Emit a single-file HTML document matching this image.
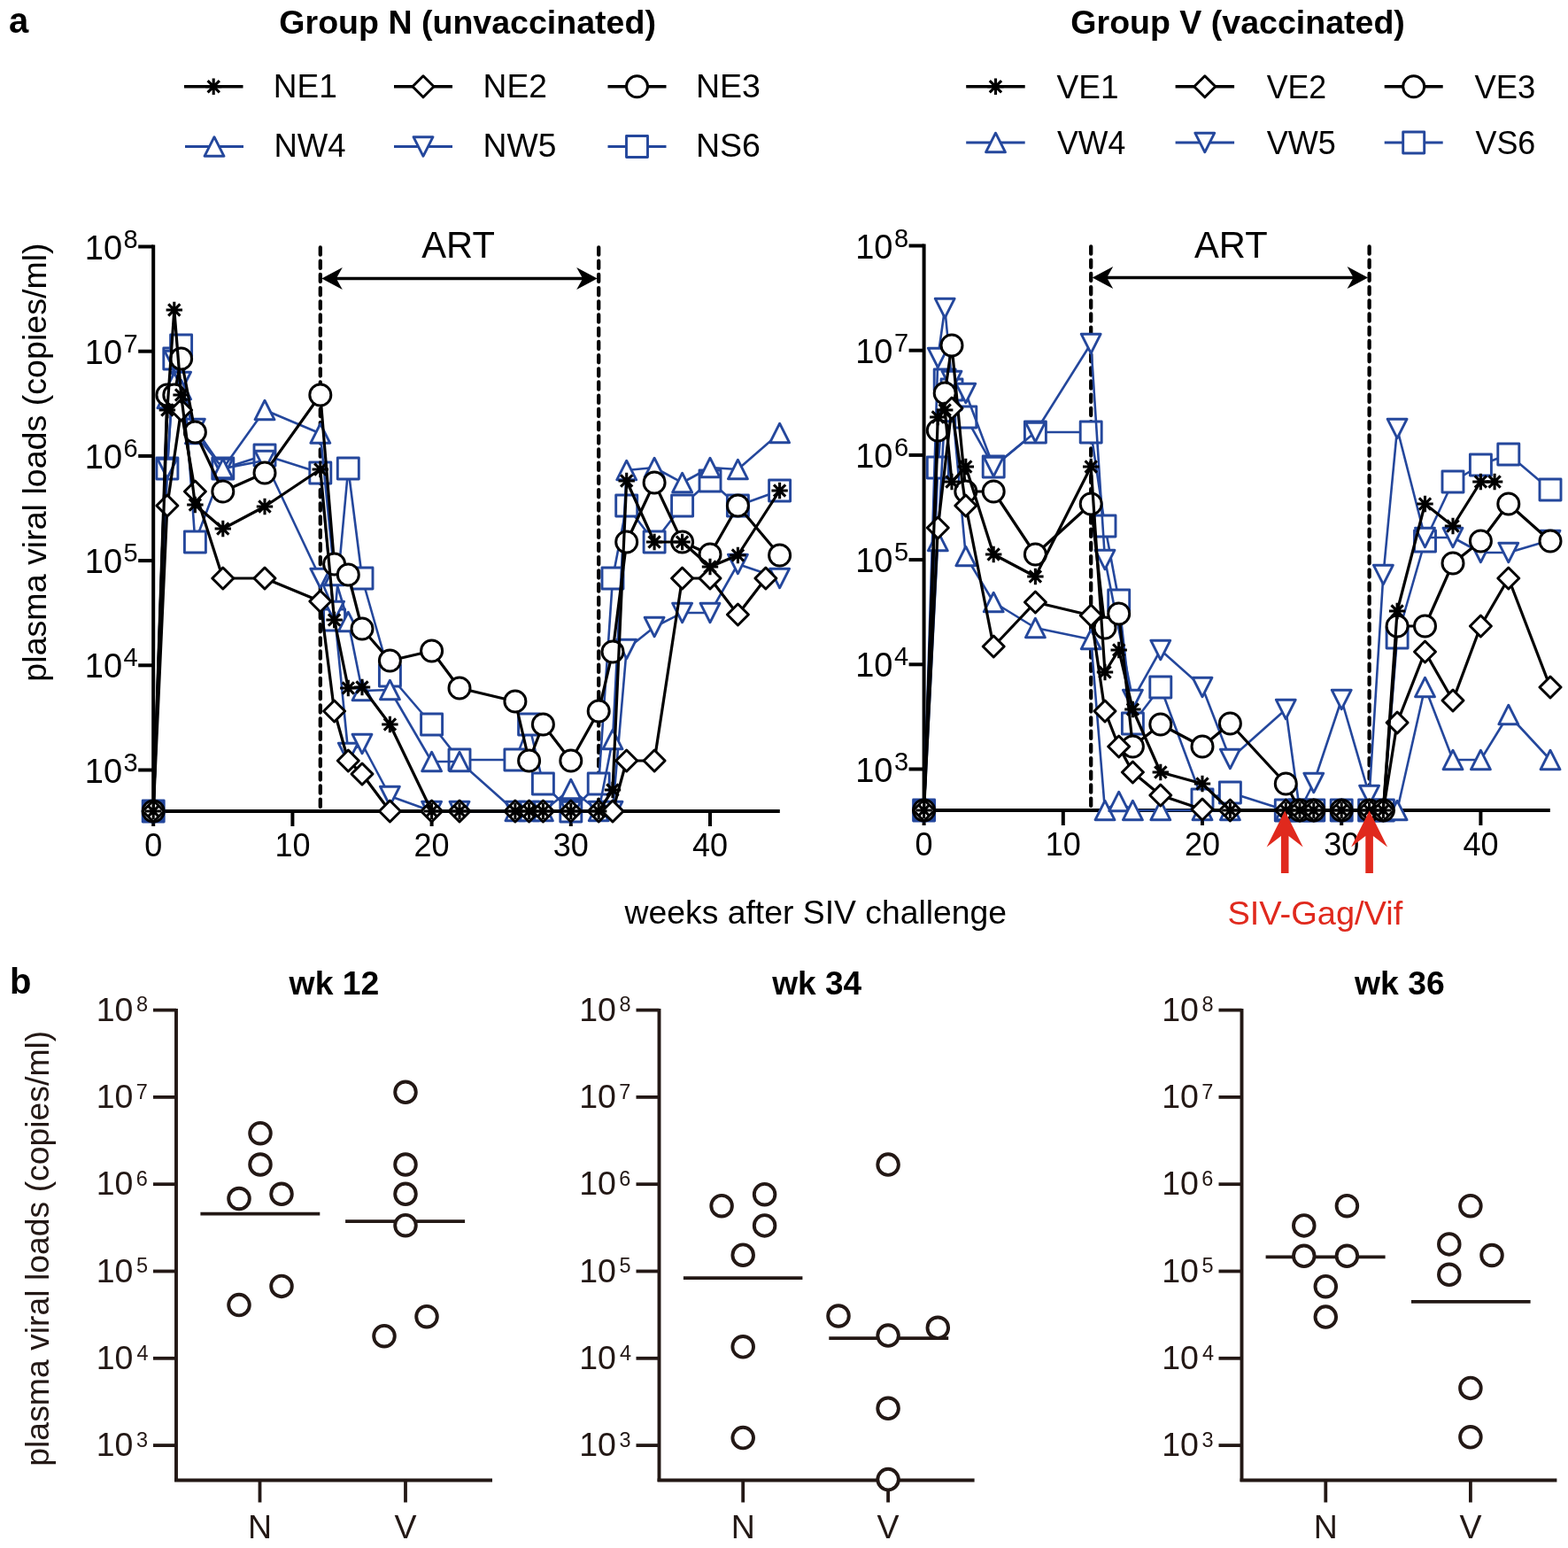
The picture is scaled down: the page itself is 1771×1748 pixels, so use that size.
<!DOCTYPE html><html><head><meta charset="utf-8"><style>html,body{margin:0;padding:0;background:#fff}svg{display:block}text{font-family:"Liberation Sans",sans-serif}</style></head><body>
<svg width="1771" height="1748" viewBox="0 0 1771 1748">
<rect width="100%" height="100%" fill="#fff"/>
<text x="10.05" y="37.30" font-size="40" font-weight="bold">a</text>
<text x="315.38" y="37.70" font-size="37" font-weight="bold" textLength="425.53" lengthAdjust="spacingAndGlyphs">Group N (unvaccinated)</text>
<text x="1209.38" y="37.70" font-size="37" font-weight="bold" textLength="377.44" lengthAdjust="spacingAndGlyphs">Group V (vaccinated)</text>
<line x1="208" y1="97.8" x2="274.5" y2="97.8" stroke="#000" stroke-width="3.4"/>
<path d="M241.2 88.6V107.0M232.1 97.8H250.4M234.6 91.2L247.9 104.4M234.6 104.4L247.9 91.2" stroke="#000" stroke-width="3.1" fill="none"/>
<text x="308.80" y="110.10" font-size="37">NE1</text>
<line x1="445" y1="97.8" x2="511" y2="97.8" stroke="#000" stroke-width="3.4"/>
<path d="M478.0 85.8L490.0 97.8L478.0 109.8L466.0 97.8Z" fill="#fff" stroke="#000" stroke-width="3.0" stroke-linejoin="round"/>
<text x="545.59" y="110.10" font-size="37" textLength="72.24" lengthAdjust="spacingAndGlyphs">NE2</text>
<line x1="686.5" y1="97.8" x2="752.5" y2="97.8" stroke="#000" stroke-width="3.4"/>
<circle cx="719.5" cy="97.8" r="12" fill="#fff" stroke="#000" stroke-width="3.0"/>
<text x="785.96" y="110.10" font-size="37" textLength="73.04" lengthAdjust="spacingAndGlyphs">NE3</text>
<line x1="209" y1="165.5" x2="275" y2="165.5" stroke="#24479c" stroke-width="3.0"/>
<path d="M242.0 154.7L253.0 176.3L231.0 176.3Z" fill="#fff" stroke="#24479c" stroke-width="2.9" stroke-linejoin="round"/>
<text x="309.44" y="177.40" font-size="37" textLength="81.12" lengthAdjust="spacingAndGlyphs">NW4</text>
<line x1="445" y1="165.5" x2="511" y2="165.5" stroke="#24479c" stroke-width="3.0"/>
<path d="M478.0 176.3L489.0 154.7L467.0 154.7Z" fill="#fff" stroke="#24479c" stroke-width="2.9" stroke-linejoin="round"/>
<text x="545.58" y="177.40" font-size="37" textLength="82.80" lengthAdjust="spacingAndGlyphs">NW5</text>
<line x1="686.5" y1="165.5" x2="752.5" y2="165.5" stroke="#24479c" stroke-width="3.0"/>
<rect x="707.5" y="153.5" width="24" height="24" fill="#fff" stroke="#24479c" stroke-width="2.9" stroke-linejoin="round"/>
<text x="785.96" y="177.40" font-size="37" textLength="73.04" lengthAdjust="spacingAndGlyphs">NS6</text>
<line x1="1091.2" y1="97.8" x2="1157.7" y2="97.8" stroke="#000" stroke-width="3.4"/>
<path d="M1124.5 88.6V107.0M1115.2 97.8H1133.7M1117.8 91.2L1131.1 104.4M1117.8 104.4L1131.1 91.2" stroke="#000" stroke-width="3.1" fill="none"/>
<text x="1193.55" y="110.60" font-size="37">VE1</text>
<line x1="1327.6" y1="97.8" x2="1394.1" y2="97.8" stroke="#000" stroke-width="3.4"/>
<path d="M1360.8 85.8L1372.8 97.8L1360.8 109.8L1348.8 97.8Z" fill="#fff" stroke="#000" stroke-width="3.0" stroke-linejoin="round"/>
<text x="1430.66" y="110.60" font-size="37" textLength="67.51" lengthAdjust="spacingAndGlyphs">VE2</text>
<line x1="1563.7" y1="97.8" x2="1629.7" y2="97.8" stroke="#000" stroke-width="3.4"/>
<circle cx="1596.7" cy="97.8" r="12" fill="#fff" stroke="#000" stroke-width="3.0"/>
<text x="1665.45" y="110.60" font-size="37" textLength="68.91" lengthAdjust="spacingAndGlyphs">VE3</text>
<line x1="1091.2" y1="161" x2="1157.7" y2="161" stroke="#24479c" stroke-width="3.0"/>
<path d="M1124.5 150.2L1135.5 171.8L1113.5 171.8Z" fill="#fff" stroke="#24479c" stroke-width="2.9" stroke-linejoin="round"/>
<text x="1194.06" y="173.60" font-size="37" textLength="77.18" lengthAdjust="spacingAndGlyphs">VW4</text>
<line x1="1327.6" y1="161" x2="1394.1" y2="161" stroke="#24479c" stroke-width="3.0"/>
<path d="M1360.8 171.8L1371.8 150.2L1349.8 150.2Z" fill="#fff" stroke="#24479c" stroke-width="2.9" stroke-linejoin="round"/>
<text x="1430.66" y="173.60" font-size="37" textLength="78.18" lengthAdjust="spacingAndGlyphs">VW5</text>
<line x1="1563.7" y1="161" x2="1629.7" y2="161" stroke="#24479c" stroke-width="3.0"/>
<rect x="1584.7" y="149.0" width="24" height="24" fill="#fff" stroke="#24479c" stroke-width="2.9" stroke-linejoin="round"/>
<text x="1666.46" y="173.60" font-size="37" textLength="67.88" lengthAdjust="spacingAndGlyphs">VS6</text>
<line x1="173.2" y1="276.5" x2="173.2" y2="918" stroke="#000" stroke-width="4"/><line x1="171.2" y1="916" x2="880.8" y2="916" stroke="#000" stroke-width="4"/><line x1="156.2" y1="278.5" x2="173.2" y2="278.5" stroke="#000" stroke-width="4"/><text x="155.7" y="292.5" font-size="38" text-anchor="end">10<tspan font-size="29" dx="1.5" dy="-13">8</tspan></text><line x1="156.2" y1="396.7" x2="173.2" y2="396.7" stroke="#000" stroke-width="4"/><text x="155.7" y="410.7" font-size="38" text-anchor="end">10<tspan font-size="29" dx="1.5" dy="-13">7</tspan></text><line x1="156.2" y1="514.9" x2="173.2" y2="514.9" stroke="#000" stroke-width="4"/><text x="155.7" y="528.9" font-size="38" text-anchor="end">10<tspan font-size="29" dx="1.5" dy="-13">6</tspan></text><line x1="156.2" y1="633.1" x2="173.2" y2="633.1" stroke="#000" stroke-width="4"/><text x="155.7" y="647.1" font-size="38" text-anchor="end">10<tspan font-size="29" dx="1.5" dy="-13">5</tspan></text><line x1="156.2" y1="751.3" x2="173.2" y2="751.3" stroke="#000" stroke-width="4"/><text x="155.7" y="765.3" font-size="38" text-anchor="end">10<tspan font-size="29" dx="1.5" dy="-13">4</tspan></text><line x1="156.2" y1="869.5" x2="173.2" y2="869.5" stroke="#000" stroke-width="4"/><text x="155.7" y="883.5" font-size="38" text-anchor="end">10<tspan font-size="29" dx="1.5" dy="-13">3</tspan></text><line x1="173.2" y1="916" x2="173.2" y2="933" stroke="#000" stroke-width="4"/><text x="173.2" y="967" font-size="36" text-anchor="middle">0</text><line x1="330.4" y1="916" x2="330.4" y2="933" stroke="#000" stroke-width="4"/><text x="330.4" y="967" font-size="36" text-anchor="middle">10</text><line x1="487.6" y1="916" x2="487.6" y2="933" stroke="#000" stroke-width="4"/><text x="487.6" y="967" font-size="36" text-anchor="middle">20</text><line x1="644.8" y1="916" x2="644.8" y2="933" stroke="#000" stroke-width="4"/><text x="644.8" y="967" font-size="36" text-anchor="middle">30</text><line x1="802.0" y1="916" x2="802.0" y2="933" stroke="#000" stroke-width="4"/><text x="802.0" y="967" font-size="36" text-anchor="middle">40</text><line x1="361.8" y1="279.5" x2="361.8" y2="916" stroke="#000" stroke-width="4.3" stroke-dasharray="8.2 7" stroke-linecap="round"/><line x1="676.2" y1="279.5" x2="676.2" y2="916" stroke="#000" stroke-width="4.3" stroke-dasharray="8.2 7" stroke-linecap="round"/><line x1="371.8" y1="314.5" x2="666.2" y2="314.5" stroke="#000" stroke-width="3.5"/><path d="M363.3 314.5L386.8 302.0L379.8 314.5L386.8 327.0Z" fill="#000"/><path d="M674.7 314.5L651.2 302.0L658.2 314.5L651.2 327.0Z" fill="#000"/><text x="476.30" y="290.70" font-size="42" textLength="82.59" lengthAdjust="spacingAndGlyphs">ART</text>
<line x1="1043.6" y1="275.5" x2="1043.6" y2="917" stroke="#000" stroke-width="4"/><line x1="1041.6" y1="915" x2="1750.8" y2="915" stroke="#000" stroke-width="4"/><line x1="1026.6" y1="277.5" x2="1043.6" y2="277.5" stroke="#000" stroke-width="4"/><text x="1026.1" y="291.5" font-size="38" text-anchor="end">10<tspan font-size="29" dx="1.5" dy="-13">8</tspan></text><line x1="1026.6" y1="395.7" x2="1043.6" y2="395.7" stroke="#000" stroke-width="4"/><text x="1026.1" y="409.7" font-size="38" text-anchor="end">10<tspan font-size="29" dx="1.5" dy="-13">7</tspan></text><line x1="1026.6" y1="513.9" x2="1043.6" y2="513.9" stroke="#000" stroke-width="4"/><text x="1026.1" y="527.9" font-size="38" text-anchor="end">10<tspan font-size="29" dx="1.5" dy="-13">6</tspan></text><line x1="1026.6" y1="632.1" x2="1043.6" y2="632.1" stroke="#000" stroke-width="4"/><text x="1026.1" y="646.1" font-size="38" text-anchor="end">10<tspan font-size="29" dx="1.5" dy="-13">5</tspan></text><line x1="1026.6" y1="750.3" x2="1043.6" y2="750.3" stroke="#000" stroke-width="4"/><text x="1026.1" y="764.3" font-size="38" text-anchor="end">10<tspan font-size="29" dx="1.5" dy="-13">4</tspan></text><line x1="1026.6" y1="868.5" x2="1043.6" y2="868.5" stroke="#000" stroke-width="4"/><text x="1026.1" y="882.5" font-size="38" text-anchor="end">10<tspan font-size="29" dx="1.5" dy="-13">3</tspan></text><line x1="1043.6" y1="915" x2="1043.6" y2="932" stroke="#000" stroke-width="4"/><text x="1043.6" y="966" font-size="36" text-anchor="middle">0</text><line x1="1200.8" y1="915" x2="1200.8" y2="932" stroke="#000" stroke-width="4"/><text x="1200.8" y="966" font-size="36" text-anchor="middle">10</text><line x1="1358.0" y1="915" x2="1358.0" y2="932" stroke="#000" stroke-width="4"/><text x="1358.0" y="966" font-size="36" text-anchor="middle">20</text><line x1="1515.2" y1="915" x2="1515.2" y2="932" stroke="#000" stroke-width="4"/><text x="1515.2" y="966" font-size="36" text-anchor="middle">30</text><line x1="1672.4" y1="915" x2="1672.4" y2="932" stroke="#000" stroke-width="4"/><text x="1672.4" y="966" font-size="36" text-anchor="middle">40</text><line x1="1232.2" y1="278.5" x2="1232.2" y2="915" stroke="#000" stroke-width="4.3" stroke-dasharray="8.2 7" stroke-linecap="round"/><line x1="1546.6" y1="278.5" x2="1546.6" y2="915" stroke="#000" stroke-width="4.3" stroke-dasharray="8.2 7" stroke-linecap="round"/><line x1="1242.2" y1="313.5" x2="1536.6" y2="313.5" stroke="#000" stroke-width="3.5"/><path d="M1233.7 313.5L1257.2 301.0L1250.2 313.5L1257.2 326.0Z" fill="#000"/><path d="M1545.1 313.5L1521.6 301.0L1528.6 313.5L1521.6 326.0Z" fill="#000"/><text x="1349.00" y="290.70" font-size="42" textLength="82.59" lengthAdjust="spacingAndGlyphs">ART</text>
<g transform="translate(52,0) rotate(-90)"><text x="-769.65" y="0.00" font-size="36" textLength="495.24" lengthAdjust="spacingAndGlyphs">plasma viral loads (copies/ml)</text></g>
<text x="705.60" y="1042.90" font-size="37" textLength="431.47" lengthAdjust="spacingAndGlyphs">weeks after SIV challenge</text>
<text x="1386.43" y="1044.30" font-size="37.5" fill="#e0291d" textLength="197.87" lengthAdjust="spacingAndGlyphs">SIV-Gag/Vif</text>
<path d="M173.2 916.0L188.9 529.0L196.8 405.0L204.6 390.0L220.4 612.0L251.8 529.0L299.0 514.0L361.8 534.0L377.6 700.0L393.3 529.0L409.0 653.0L440.4 763.0L487.6 818.0L519.0 858.0L581.9 858.0L597.6 818.0L613.4 885.0L644.8 916.0L676.2 885.0L692.0 653.0L707.7 571.0L739.1 612.0L770.6 571.0L802.0 543.0L833.4 571.0L880.6 554.0" fill="none" stroke="#24479c" stroke-width="2.6" stroke-linejoin="round"/><rect x="161.2" y="904.0" width="24" height="24" fill="#fff" stroke="#24479c" stroke-width="2.9" stroke-linejoin="round"/><rect x="176.9" y="517.0" width="24" height="24" fill="#fff" stroke="#24479c" stroke-width="2.9" stroke-linejoin="round"/><rect x="184.8" y="393.0" width="24" height="24" fill="#fff" stroke="#24479c" stroke-width="2.9" stroke-linejoin="round"/><rect x="192.6" y="378.0" width="24" height="24" fill="#fff" stroke="#24479c" stroke-width="2.9" stroke-linejoin="round"/><rect x="208.4" y="600.0" width="24" height="24" fill="#fff" stroke="#24479c" stroke-width="2.9" stroke-linejoin="round"/><rect x="239.8" y="517.0" width="24" height="24" fill="#fff" stroke="#24479c" stroke-width="2.9" stroke-linejoin="round"/><rect x="287.0" y="502.0" width="24" height="24" fill="#fff" stroke="#24479c" stroke-width="2.9" stroke-linejoin="round"/><rect x="349.8" y="522.0" width="24" height="24" fill="#fff" stroke="#24479c" stroke-width="2.9" stroke-linejoin="round"/><rect x="365.6" y="688.0" width="24" height="24" fill="#fff" stroke="#24479c" stroke-width="2.9" stroke-linejoin="round"/><rect x="381.3" y="517.0" width="24" height="24" fill="#fff" stroke="#24479c" stroke-width="2.9" stroke-linejoin="round"/><rect x="397.0" y="641.0" width="24" height="24" fill="#fff" stroke="#24479c" stroke-width="2.9" stroke-linejoin="round"/><rect x="428.4" y="751.0" width="24" height="24" fill="#fff" stroke="#24479c" stroke-width="2.9" stroke-linejoin="round"/><rect x="475.6" y="806.0" width="24" height="24" fill="#fff" stroke="#24479c" stroke-width="2.9" stroke-linejoin="round"/><rect x="507.0" y="846.0" width="24" height="24" fill="#fff" stroke="#24479c" stroke-width="2.9" stroke-linejoin="round"/><rect x="569.9" y="846.0" width="24" height="24" fill="#fff" stroke="#24479c" stroke-width="2.9" stroke-linejoin="round"/><rect x="585.6" y="806.0" width="24" height="24" fill="#fff" stroke="#24479c" stroke-width="2.9" stroke-linejoin="round"/><rect x="601.4" y="873.0" width="24" height="24" fill="#fff" stroke="#24479c" stroke-width="2.9" stroke-linejoin="round"/><rect x="632.8" y="904.0" width="24" height="24" fill="#fff" stroke="#24479c" stroke-width="2.9" stroke-linejoin="round"/><rect x="664.2" y="873.0" width="24" height="24" fill="#fff" stroke="#24479c" stroke-width="2.9" stroke-linejoin="round"/><rect x="680.0" y="641.0" width="24" height="24" fill="#fff" stroke="#24479c" stroke-width="2.9" stroke-linejoin="round"/><rect x="695.7" y="559.0" width="24" height="24" fill="#fff" stroke="#24479c" stroke-width="2.9" stroke-linejoin="round"/><rect x="727.1" y="600.0" width="24" height="24" fill="#fff" stroke="#24479c" stroke-width="2.9" stroke-linejoin="round"/><rect x="758.6" y="559.0" width="24" height="24" fill="#fff" stroke="#24479c" stroke-width="2.9" stroke-linejoin="round"/><rect x="790.0" y="531.0" width="24" height="24" fill="#fff" stroke="#24479c" stroke-width="2.9" stroke-linejoin="round"/><rect x="821.4" y="559.0" width="24" height="24" fill="#fff" stroke="#24479c" stroke-width="2.9" stroke-linejoin="round"/><rect x="868.6" y="542.0" width="24" height="24" fill="#fff" stroke="#24479c" stroke-width="2.9" stroke-linejoin="round"/><path d="M173.2 916.0L188.9 529.0L196.8 407.0L204.6 431.0L220.4 484.0L251.8 529.0L299.0 520.0L361.8 653.0L377.6 690.0L393.3 850.0L409.0 840.0L440.4 899.0L487.6 916.0L519.0 916.0L581.9 916.0L597.6 916.0L613.4 916.0L644.8 916.0L676.2 916.0L692.0 916.0L707.7 733.0L739.1 708.0L770.6 692.0L802.0 692.0L833.4 637.0L880.6 653.0" fill="none" stroke="#24479c" stroke-width="2.6" stroke-linejoin="round"/><path d="M173.2 926.8L184.2 905.2L162.2 905.2Z" fill="#fff" stroke="#24479c" stroke-width="2.9" stroke-linejoin="round"/><path d="M188.9 539.8L199.9 518.2L177.9 518.2Z" fill="#fff" stroke="#24479c" stroke-width="2.9" stroke-linejoin="round"/><path d="M196.8 417.8L207.8 396.2L185.8 396.2Z" fill="#fff" stroke="#24479c" stroke-width="2.9" stroke-linejoin="round"/><path d="M204.6 441.8L215.6 420.2L193.6 420.2Z" fill="#fff" stroke="#24479c" stroke-width="2.9" stroke-linejoin="round"/><path d="M220.4 494.8L231.4 473.2L209.4 473.2Z" fill="#fff" stroke="#24479c" stroke-width="2.9" stroke-linejoin="round"/><path d="M251.8 539.8L262.8 518.2L240.8 518.2Z" fill="#fff" stroke="#24479c" stroke-width="2.9" stroke-linejoin="round"/><path d="M299.0 530.8L310.0 509.2L288.0 509.2Z" fill="#fff" stroke="#24479c" stroke-width="2.9" stroke-linejoin="round"/><path d="M361.8 663.8L372.8 642.2L350.8 642.2Z" fill="#fff" stroke="#24479c" stroke-width="2.9" stroke-linejoin="round"/><path d="M377.6 700.8L388.6 679.2L366.6 679.2Z" fill="#fff" stroke="#24479c" stroke-width="2.9" stroke-linejoin="round"/><path d="M393.3 860.8L404.3 839.2L382.3 839.2Z" fill="#fff" stroke="#24479c" stroke-width="2.9" stroke-linejoin="round"/><path d="M409.0 850.8L420.0 829.2L398.0 829.2Z" fill="#fff" stroke="#24479c" stroke-width="2.9" stroke-linejoin="round"/><path d="M440.4 909.8L451.4 888.2L429.4 888.2Z" fill="#fff" stroke="#24479c" stroke-width="2.9" stroke-linejoin="round"/><path d="M487.6 926.8L498.6 905.2L476.6 905.2Z" fill="#fff" stroke="#24479c" stroke-width="2.9" stroke-linejoin="round"/><path d="M519.0 926.8L530.0 905.2L508.0 905.2Z" fill="#fff" stroke="#24479c" stroke-width="2.9" stroke-linejoin="round"/><path d="M581.9 926.8L592.9 905.2L570.9 905.2Z" fill="#fff" stroke="#24479c" stroke-width="2.9" stroke-linejoin="round"/><path d="M597.6 926.8L608.6 905.2L586.6 905.2Z" fill="#fff" stroke="#24479c" stroke-width="2.9" stroke-linejoin="round"/><path d="M613.4 926.8L624.4 905.2L602.4 905.2Z" fill="#fff" stroke="#24479c" stroke-width="2.9" stroke-linejoin="round"/><path d="M644.8 926.8L655.8 905.2L633.8 905.2Z" fill="#fff" stroke="#24479c" stroke-width="2.9" stroke-linejoin="round"/><path d="M676.2 926.8L687.2 905.2L665.2 905.2Z" fill="#fff" stroke="#24479c" stroke-width="2.9" stroke-linejoin="round"/><path d="M692.0 926.8L703.0 905.2L681.0 905.2Z" fill="#fff" stroke="#24479c" stroke-width="2.9" stroke-linejoin="round"/><path d="M707.7 743.8L718.7 722.2L696.7 722.2Z" fill="#fff" stroke="#24479c" stroke-width="2.9" stroke-linejoin="round"/><path d="M739.1 718.8L750.1 697.2L728.1 697.2Z" fill="#fff" stroke="#24479c" stroke-width="2.9" stroke-linejoin="round"/><path d="M770.6 702.8L781.6 681.2L759.6 681.2Z" fill="#fff" stroke="#24479c" stroke-width="2.9" stroke-linejoin="round"/><path d="M802.0 702.8L813.0 681.2L791.0 681.2Z" fill="#fff" stroke="#24479c" stroke-width="2.9" stroke-linejoin="round"/><path d="M833.4 647.8L844.4 626.2L822.4 626.2Z" fill="#fff" stroke="#24479c" stroke-width="2.9" stroke-linejoin="round"/><path d="M880.6 663.8L891.6 642.2L869.6 642.2Z" fill="#fff" stroke="#24479c" stroke-width="2.9" stroke-linejoin="round"/><path d="M173.2 916.0L188.9 450.0L196.8 432.0L204.6 440.0L220.4 490.0L251.8 529.0L299.0 463.0L361.8 489.5L377.6 650.0L393.3 702.0L409.0 780.0L440.4 779.0L487.6 860.0L519.0 860.0L581.9 916.0L597.6 916.0L613.4 916.0L644.8 891.0L676.2 916.0L692.0 835.0L707.7 531.0L739.1 528.0L770.6 545.0L802.0 528.0L833.4 530.0L880.6 489.0" fill="none" stroke="#24479c" stroke-width="2.6" stroke-linejoin="round"/><path d="M173.2 905.2L184.2 926.8L162.2 926.8Z" fill="#fff" stroke="#24479c" stroke-width="2.9" stroke-linejoin="round"/><path d="M188.9 439.2L199.9 460.8L177.9 460.8Z" fill="#fff" stroke="#24479c" stroke-width="2.9" stroke-linejoin="round"/><path d="M196.8 421.2L207.8 442.8L185.8 442.8Z" fill="#fff" stroke="#24479c" stroke-width="2.9" stroke-linejoin="round"/><path d="M204.6 429.2L215.6 450.8L193.6 450.8Z" fill="#fff" stroke="#24479c" stroke-width="2.9" stroke-linejoin="round"/><path d="M220.4 479.2L231.4 500.8L209.4 500.8Z" fill="#fff" stroke="#24479c" stroke-width="2.9" stroke-linejoin="round"/><path d="M251.8 518.2L262.8 539.8L240.8 539.8Z" fill="#fff" stroke="#24479c" stroke-width="2.9" stroke-linejoin="round"/><path d="M299.0 452.2L310.0 473.8L288.0 473.8Z" fill="#fff" stroke="#24479c" stroke-width="2.9" stroke-linejoin="round"/><path d="M361.8 478.7L372.8 500.3L350.8 500.3Z" fill="#fff" stroke="#24479c" stroke-width="2.9" stroke-linejoin="round"/><path d="M377.6 639.2L388.6 660.8L366.6 660.8Z" fill="#fff" stroke="#24479c" stroke-width="2.9" stroke-linejoin="round"/><path d="M393.3 691.2L404.3 712.8L382.3 712.8Z" fill="#fff" stroke="#24479c" stroke-width="2.9" stroke-linejoin="round"/><path d="M409.0 769.2L420.0 790.8L398.0 790.8Z" fill="#fff" stroke="#24479c" stroke-width="2.9" stroke-linejoin="round"/><path d="M440.4 768.2L451.4 789.8L429.4 789.8Z" fill="#fff" stroke="#24479c" stroke-width="2.9" stroke-linejoin="round"/><path d="M487.6 849.2L498.6 870.8L476.6 870.8Z" fill="#fff" stroke="#24479c" stroke-width="2.9" stroke-linejoin="round"/><path d="M519.0 849.2L530.0 870.8L508.0 870.8Z" fill="#fff" stroke="#24479c" stroke-width="2.9" stroke-linejoin="round"/><path d="M581.9 905.2L592.9 926.8L570.9 926.8Z" fill="#fff" stroke="#24479c" stroke-width="2.9" stroke-linejoin="round"/><path d="M597.6 905.2L608.6 926.8L586.6 926.8Z" fill="#fff" stroke="#24479c" stroke-width="2.9" stroke-linejoin="round"/><path d="M613.4 905.2L624.4 926.8L602.4 926.8Z" fill="#fff" stroke="#24479c" stroke-width="2.9" stroke-linejoin="round"/><path d="M644.8 880.2L655.8 901.8L633.8 901.8Z" fill="#fff" stroke="#24479c" stroke-width="2.9" stroke-linejoin="round"/><path d="M676.2 905.2L687.2 926.8L665.2 926.8Z" fill="#fff" stroke="#24479c" stroke-width="2.9" stroke-linejoin="round"/><path d="M692.0 824.2L703.0 845.8L681.0 845.8Z" fill="#fff" stroke="#24479c" stroke-width="2.9" stroke-linejoin="round"/><path d="M707.7 520.2L718.7 541.8L696.7 541.8Z" fill="#fff" stroke="#24479c" stroke-width="2.9" stroke-linejoin="round"/><path d="M739.1 517.2L750.1 538.8L728.1 538.8Z" fill="#fff" stroke="#24479c" stroke-width="2.9" stroke-linejoin="round"/><path d="M770.6 534.2L781.6 555.8L759.6 555.8Z" fill="#fff" stroke="#24479c" stroke-width="2.9" stroke-linejoin="round"/><path d="M802.0 517.2L813.0 538.8L791.0 538.8Z" fill="#fff" stroke="#24479c" stroke-width="2.9" stroke-linejoin="round"/><path d="M833.4 519.2L844.4 540.8L822.4 540.8Z" fill="#fff" stroke="#24479c" stroke-width="2.9" stroke-linejoin="round"/><path d="M880.6 478.2L891.6 499.8L869.6 499.8Z" fill="#fff" stroke="#24479c" stroke-width="2.9" stroke-linejoin="round"/><path d="M173.2 916.0L188.9 446.0L196.8 446.0L204.6 405.0L220.4 488.0L251.8 555.0L299.0 534.0L361.8 446.0L377.6 637.0L393.3 649.0L409.0 710.0L440.4 746.0L487.6 735.0L519.0 777.0L581.9 792.0L597.6 859.0L613.4 818.0L644.8 859.0L676.2 803.0L692.0 736.0L707.7 612.0L739.1 545.0L770.6 612.0L802.0 626.0L833.4 571.0L880.6 627.0" fill="none" stroke="#000" stroke-width="3.2" stroke-linejoin="round"/><circle cx="173.2" cy="916.0" r="12" fill="#fff" stroke="#000" stroke-width="3.0"/><circle cx="188.9" cy="446.0" r="12" fill="#fff" stroke="#000" stroke-width="3.0"/><circle cx="196.8" cy="446.0" r="12" fill="#fff" stroke="#000" stroke-width="3.0"/><circle cx="204.6" cy="405.0" r="12" fill="#fff" stroke="#000" stroke-width="3.0"/><circle cx="220.4" cy="488.0" r="12" fill="#fff" stroke="#000" stroke-width="3.0"/><circle cx="251.8" cy="555.0" r="12" fill="#fff" stroke="#000" stroke-width="3.0"/><circle cx="299.0" cy="534.0" r="12" fill="#fff" stroke="#000" stroke-width="3.0"/><circle cx="361.8" cy="446.0" r="12" fill="#fff" stroke="#000" stroke-width="3.0"/><circle cx="377.6" cy="637.0" r="12" fill="#fff" stroke="#000" stroke-width="3.0"/><circle cx="393.3" cy="649.0" r="12" fill="#fff" stroke="#000" stroke-width="3.0"/><circle cx="409.0" cy="710.0" r="12" fill="#fff" stroke="#000" stroke-width="3.0"/><circle cx="440.4" cy="746.0" r="12" fill="#fff" stroke="#000" stroke-width="3.0"/><circle cx="487.6" cy="735.0" r="12" fill="#fff" stroke="#000" stroke-width="3.0"/><circle cx="519.0" cy="777.0" r="12" fill="#fff" stroke="#000" stroke-width="3.0"/><circle cx="581.9" cy="792.0" r="12" fill="#fff" stroke="#000" stroke-width="3.0"/><circle cx="597.6" cy="859.0" r="12" fill="#fff" stroke="#000" stroke-width="3.0"/><circle cx="613.4" cy="818.0" r="12" fill="#fff" stroke="#000" stroke-width="3.0"/><circle cx="644.8" cy="859.0" r="12" fill="#fff" stroke="#000" stroke-width="3.0"/><circle cx="676.2" cy="803.0" r="12" fill="#fff" stroke="#000" stroke-width="3.0"/><circle cx="692.0" cy="736.0" r="12" fill="#fff" stroke="#000" stroke-width="3.0"/><circle cx="707.7" cy="612.0" r="12" fill="#fff" stroke="#000" stroke-width="3.0"/><circle cx="739.1" cy="545.0" r="12" fill="#fff" stroke="#000" stroke-width="3.0"/><circle cx="770.6" cy="612.0" r="12" fill="#fff" stroke="#000" stroke-width="3.0"/><circle cx="802.0" cy="626.0" r="12" fill="#fff" stroke="#000" stroke-width="3.0"/><circle cx="833.4" cy="571.0" r="12" fill="#fff" stroke="#000" stroke-width="3.0"/><circle cx="880.6" cy="627.0" r="12" fill="#fff" stroke="#000" stroke-width="3.0"/><path d="M173.2 916.0L188.9 571.0L204.6 463.0L220.4 555.0L251.8 653.0L299.0 653.0L361.8 679.0L377.6 803.0L393.3 859.0L409.0 874.0L440.4 916.0L487.6 916.0L519.0 916.0L581.9 916.0L597.6 916.0L613.4 916.0L644.8 916.0L676.2 916.0L692.0 916.0L707.7 859.0L739.1 859.0L770.6 653.0L802.0 653.0L833.4 694.0L864.9 653.0" fill="none" stroke="#000" stroke-width="3.2" stroke-linejoin="round"/><path d="M173.2 904.0L185.2 916.0L173.2 928.0L161.2 916.0Z" fill="#fff" stroke="#000" stroke-width="3.0" stroke-linejoin="round"/><path d="M188.9 559.0L200.9 571.0L188.9 583.0L176.9 571.0Z" fill="#fff" stroke="#000" stroke-width="3.0" stroke-linejoin="round"/><path d="M204.6 451.0L216.6 463.0L204.6 475.0L192.6 463.0Z" fill="#fff" stroke="#000" stroke-width="3.0" stroke-linejoin="round"/><path d="M220.4 543.0L232.4 555.0L220.4 567.0L208.4 555.0Z" fill="#fff" stroke="#000" stroke-width="3.0" stroke-linejoin="round"/><path d="M251.8 641.0L263.8 653.0L251.8 665.0L239.8 653.0Z" fill="#fff" stroke="#000" stroke-width="3.0" stroke-linejoin="round"/><path d="M299.0 641.0L311.0 653.0L299.0 665.0L287.0 653.0Z" fill="#fff" stroke="#000" stroke-width="3.0" stroke-linejoin="round"/><path d="M361.8 667.0L373.8 679.0L361.8 691.0L349.8 679.0Z" fill="#fff" stroke="#000" stroke-width="3.0" stroke-linejoin="round"/><path d="M377.6 791.0L389.6 803.0L377.6 815.0L365.6 803.0Z" fill="#fff" stroke="#000" stroke-width="3.0" stroke-linejoin="round"/><path d="M393.3 847.0L405.3 859.0L393.3 871.0L381.3 859.0Z" fill="#fff" stroke="#000" stroke-width="3.0" stroke-linejoin="round"/><path d="M409.0 862.0L421.0 874.0L409.0 886.0L397.0 874.0Z" fill="#fff" stroke="#000" stroke-width="3.0" stroke-linejoin="round"/><path d="M440.4 904.0L452.4 916.0L440.4 928.0L428.4 916.0Z" fill="#fff" stroke="#000" stroke-width="3.0" stroke-linejoin="round"/><path d="M487.6 904.0L499.6 916.0L487.6 928.0L475.6 916.0Z" fill="#fff" stroke="#000" stroke-width="3.0" stroke-linejoin="round"/><path d="M519.0 904.0L531.0 916.0L519.0 928.0L507.0 916.0Z" fill="#fff" stroke="#000" stroke-width="3.0" stroke-linejoin="round"/><path d="M581.9 904.0L593.9 916.0L581.9 928.0L569.9 916.0Z" fill="#fff" stroke="#000" stroke-width="3.0" stroke-linejoin="round"/><path d="M597.6 904.0L609.6 916.0L597.6 928.0L585.6 916.0Z" fill="#fff" stroke="#000" stroke-width="3.0" stroke-linejoin="round"/><path d="M613.4 904.0L625.4 916.0L613.4 928.0L601.4 916.0Z" fill="#fff" stroke="#000" stroke-width="3.0" stroke-linejoin="round"/><path d="M644.8 904.0L656.8 916.0L644.8 928.0L632.8 916.0Z" fill="#fff" stroke="#000" stroke-width="3.0" stroke-linejoin="round"/><path d="M676.2 904.0L688.2 916.0L676.2 928.0L664.2 916.0Z" fill="#fff" stroke="#000" stroke-width="3.0" stroke-linejoin="round"/><path d="M692.0 904.0L704.0 916.0L692.0 928.0L680.0 916.0Z" fill="#fff" stroke="#000" stroke-width="3.0" stroke-linejoin="round"/><path d="M707.7 847.0L719.7 859.0L707.7 871.0L695.7 859.0Z" fill="#fff" stroke="#000" stroke-width="3.0" stroke-linejoin="round"/><path d="M739.1 847.0L751.1 859.0L739.1 871.0L727.1 859.0Z" fill="#fff" stroke="#000" stroke-width="3.0" stroke-linejoin="round"/><path d="M770.6 641.0L782.6 653.0L770.6 665.0L758.6 653.0Z" fill="#fff" stroke="#000" stroke-width="3.0" stroke-linejoin="round"/><path d="M802.0 641.0L814.0 653.0L802.0 665.0L790.0 653.0Z" fill="#fff" stroke="#000" stroke-width="3.0" stroke-linejoin="round"/><path d="M833.4 682.0L845.4 694.0L833.4 706.0L821.4 694.0Z" fill="#fff" stroke="#000" stroke-width="3.0" stroke-linejoin="round"/><path d="M864.9 641.0L876.9 653.0L864.9 665.0L852.9 653.0Z" fill="#fff" stroke="#000" stroke-width="3.0" stroke-linejoin="round"/><path d="M173.2 916.0L188.9 463.0L196.8 350.0L204.6 446.0L220.4 570.0L251.8 597.0L299.0 572.0L361.8 530.0L377.6 700.0L393.3 777.0L409.0 776.0L440.4 818.0L487.6 916.0L519.0 916.0L581.9 916.0L597.6 916.0L613.4 916.0L644.8 916.0L676.2 916.0L692.0 892.0L707.7 543.0L739.1 612.0L770.6 612.0L802.0 640.0L833.4 627.0L880.6 554.0" fill="none" stroke="#000" stroke-width="3.2" stroke-linejoin="round"/><path d="M173.2 906.8V925.2M164.0 916.0H182.4M166.6 909.4L179.8 922.6M166.6 922.6L179.8 909.4" stroke="#000" stroke-width="3.1" fill="none"/><path d="M188.9 453.8V472.2M179.7 463.0H198.1M182.3 456.4L195.5 469.6M182.3 469.6L195.5 456.4" stroke="#000" stroke-width="3.1" fill="none"/><path d="M196.8 340.8V359.2M187.6 350.0H206.0M190.2 343.4L203.4 356.6M190.2 356.6L203.4 343.4" stroke="#000" stroke-width="3.1" fill="none"/><path d="M204.6 436.8V455.2M195.4 446.0H213.8M198.0 439.4L211.3 452.6M198.0 452.6L211.3 439.4" stroke="#000" stroke-width="3.1" fill="none"/><path d="M220.4 560.8V579.2M211.2 570.0H229.6M213.7 563.4L227.0 576.6M213.7 576.6L227.0 563.4" stroke="#000" stroke-width="3.1" fill="none"/><path d="M251.8 587.8V606.2M242.6 597.0H261.0M245.2 590.4L258.4 603.6M245.2 603.6L258.4 590.4" stroke="#000" stroke-width="3.1" fill="none"/><path d="M299.0 562.8V581.2M289.8 572.0H308.2M292.3 565.4L305.6 578.6M292.3 578.6L305.6 565.4" stroke="#000" stroke-width="3.1" fill="none"/><path d="M361.8 520.8V539.2M352.6 530.0H371.0M355.2 523.4L368.5 536.6M355.2 536.6L368.5 523.4" stroke="#000" stroke-width="3.1" fill="none"/><path d="M377.6 690.8V709.2M368.4 700.0H386.8M370.9 693.4L384.2 706.6M370.9 706.6L384.2 693.4" stroke="#000" stroke-width="3.1" fill="none"/><path d="M393.3 767.8V786.2M384.1 777.0H402.5M386.7 770.4L399.9 783.6M386.7 783.6L399.9 770.4" stroke="#000" stroke-width="3.1" fill="none"/><path d="M409.0 766.8V785.2M399.8 776.0H418.2M402.4 769.4L415.6 782.6M402.4 782.6L415.6 769.4" stroke="#000" stroke-width="3.1" fill="none"/><path d="M440.4 808.8V827.2M431.2 818.0H449.6M433.8 811.4L447.1 824.6M433.8 824.6L447.1 811.4" stroke="#000" stroke-width="3.1" fill="none"/><path d="M487.6 906.8V925.2M478.4 916.0H496.8M481.0 909.4L494.2 922.6M481.0 922.6L494.2 909.4" stroke="#000" stroke-width="3.1" fill="none"/><path d="M519.0 906.8V925.2M509.8 916.0H528.2M512.4 909.4L525.7 922.6M512.4 922.6L525.7 909.4" stroke="#000" stroke-width="3.1" fill="none"/><path d="M581.9 906.8V925.2M572.7 916.0H591.1M575.3 909.4L588.5 922.6M575.3 922.6L588.5 909.4" stroke="#000" stroke-width="3.1" fill="none"/><path d="M597.6 906.8V925.2M588.4 916.0H606.8M591.0 909.4L604.3 922.6M591.0 922.6L604.3 909.4" stroke="#000" stroke-width="3.1" fill="none"/><path d="M613.4 906.8V925.2M604.2 916.0H622.6M606.7 909.4L620.0 922.6M606.7 922.6L620.0 909.4" stroke="#000" stroke-width="3.1" fill="none"/><path d="M644.8 906.8V925.2M635.6 916.0H654.0M638.2 909.4L651.4 922.6M638.2 922.6L651.4 909.4" stroke="#000" stroke-width="3.1" fill="none"/><path d="M676.2 906.8V925.2M667.0 916.0H685.4M669.6 909.4L682.9 922.6M669.6 922.6L682.9 909.4" stroke="#000" stroke-width="3.1" fill="none"/><path d="M692.0 882.8V901.2M682.8 892.0H701.2M685.3 885.4L698.6 898.6M685.3 898.6L698.6 885.4" stroke="#000" stroke-width="3.1" fill="none"/><path d="M707.7 533.8V552.2M698.5 543.0H716.9M701.1 536.4L714.3 549.6M701.1 549.6L714.3 536.4" stroke="#000" stroke-width="3.1" fill="none"/><path d="M739.1 602.8V621.2M729.9 612.0H748.3M732.5 605.4L745.7 618.6M732.5 618.6L745.7 605.4" stroke="#000" stroke-width="3.1" fill="none"/><path d="M770.6 602.8V621.2M761.4 612.0H779.8M763.9 605.4L777.2 618.6M763.9 618.6L777.2 605.4" stroke="#000" stroke-width="3.1" fill="none"/><path d="M802.0 630.8V649.2M792.8 640.0H811.2M795.4 633.4L808.6 646.6M795.4 646.6L808.6 633.4" stroke="#000" stroke-width="3.1" fill="none"/><path d="M833.4 617.8V636.2M824.2 627.0H842.6M826.8 620.4L840.1 633.6M826.8 633.6L840.1 620.4" stroke="#000" stroke-width="3.1" fill="none"/><path d="M880.6 544.8V563.2M871.4 554.0H889.8M874.0 547.4L887.2 560.6M874.0 560.6L887.2 547.4" stroke="#000" stroke-width="3.1" fill="none"/>
<path d="M1043.6 915.0L1059.3 528.0L1067.2 429.0L1075.0 440.0L1090.8 471.0L1122.2 527.0L1169.4 488.0L1232.2 488.0L1248.0 594.0L1263.7 678.0L1279.4 817.0L1310.8 776.0L1358.0 903.0L1389.4 895.0L1452.3 915.0L1468.0 915.0L1483.8 915.0L1515.2 915.0L1546.6 915.0L1562.4 915.0L1578.1 720.0L1609.5 611.0L1641.0 544.0L1672.4 525.0L1703.8 513.0L1751.0 553.0" fill="none" stroke="#24479c" stroke-width="2.6" stroke-linejoin="round"/><rect x="1031.6" y="903.0" width="24" height="24" fill="#fff" stroke="#24479c" stroke-width="2.9" stroke-linejoin="round"/><rect x="1047.3" y="516.0" width="24" height="24" fill="#fff" stroke="#24479c" stroke-width="2.9" stroke-linejoin="round"/><rect x="1055.2" y="417.0" width="24" height="24" fill="#fff" stroke="#24479c" stroke-width="2.9" stroke-linejoin="round"/><rect x="1063.0" y="428.0" width="24" height="24" fill="#fff" stroke="#24479c" stroke-width="2.9" stroke-linejoin="round"/><rect x="1078.8" y="459.0" width="24" height="24" fill="#fff" stroke="#24479c" stroke-width="2.9" stroke-linejoin="round"/><rect x="1110.2" y="515.0" width="24" height="24" fill="#fff" stroke="#24479c" stroke-width="2.9" stroke-linejoin="round"/><rect x="1157.4" y="476.0" width="24" height="24" fill="#fff" stroke="#24479c" stroke-width="2.9" stroke-linejoin="round"/><rect x="1220.2" y="476.0" width="24" height="24" fill="#fff" stroke="#24479c" stroke-width="2.9" stroke-linejoin="round"/><rect x="1236.0" y="582.0" width="24" height="24" fill="#fff" stroke="#24479c" stroke-width="2.9" stroke-linejoin="round"/><rect x="1251.7" y="666.0" width="24" height="24" fill="#fff" stroke="#24479c" stroke-width="2.9" stroke-linejoin="round"/><rect x="1267.4" y="805.0" width="24" height="24" fill="#fff" stroke="#24479c" stroke-width="2.9" stroke-linejoin="round"/><rect x="1298.8" y="764.0" width="24" height="24" fill="#fff" stroke="#24479c" stroke-width="2.9" stroke-linejoin="round"/><rect x="1346.0" y="891.0" width="24" height="24" fill="#fff" stroke="#24479c" stroke-width="2.9" stroke-linejoin="round"/><rect x="1377.4" y="883.0" width="24" height="24" fill="#fff" stroke="#24479c" stroke-width="2.9" stroke-linejoin="round"/><rect x="1440.3" y="903.0" width="24" height="24" fill="#fff" stroke="#24479c" stroke-width="2.9" stroke-linejoin="round"/><rect x="1456.0" y="903.0" width="24" height="24" fill="#fff" stroke="#24479c" stroke-width="2.9" stroke-linejoin="round"/><rect x="1471.8" y="903.0" width="24" height="24" fill="#fff" stroke="#24479c" stroke-width="2.9" stroke-linejoin="round"/><rect x="1503.2" y="903.0" width="24" height="24" fill="#fff" stroke="#24479c" stroke-width="2.9" stroke-linejoin="round"/><rect x="1534.6" y="903.0" width="24" height="24" fill="#fff" stroke="#24479c" stroke-width="2.9" stroke-linejoin="round"/><rect x="1550.4" y="903.0" width="24" height="24" fill="#fff" stroke="#24479c" stroke-width="2.9" stroke-linejoin="round"/><rect x="1566.1" y="708.0" width="24" height="24" fill="#fff" stroke="#24479c" stroke-width="2.9" stroke-linejoin="round"/><rect x="1597.5" y="599.0" width="24" height="24" fill="#fff" stroke="#24479c" stroke-width="2.9" stroke-linejoin="round"/><rect x="1629.0" y="532.0" width="24" height="24" fill="#fff" stroke="#24479c" stroke-width="2.9" stroke-linejoin="round"/><rect x="1660.4" y="513.0" width="24" height="24" fill="#fff" stroke="#24479c" stroke-width="2.9" stroke-linejoin="round"/><rect x="1691.8" y="501.0" width="24" height="24" fill="#fff" stroke="#24479c" stroke-width="2.9" stroke-linejoin="round"/><rect x="1739.0" y="541.0" width="24" height="24" fill="#fff" stroke="#24479c" stroke-width="2.9" stroke-linejoin="round"/><path d="M1043.6 915.0L1059.3 404.0L1067.2 348.0L1075.0 430.0L1090.8 444.0L1122.2 527.0L1169.4 488.0L1232.2 388.0L1248.0 632.0L1279.4 790.0L1310.8 734.0L1358.0 776.0L1389.4 857.0L1452.3 801.0L1468.0 915.0L1483.8 884.0L1515.2 790.0L1546.6 898.0L1562.4 649.0L1578.1 484.0L1609.5 607.0L1641.0 607.0L1672.4 624.0L1703.8 624.0L1751.0 610.0" fill="none" stroke="#24479c" stroke-width="2.6" stroke-linejoin="round"/><path d="M1043.6 925.8L1054.6 904.2L1032.6 904.2Z" fill="#fff" stroke="#24479c" stroke-width="2.9" stroke-linejoin="round"/><path d="M1059.3 414.8L1070.3 393.2L1048.3 393.2Z" fill="#fff" stroke="#24479c" stroke-width="2.9" stroke-linejoin="round"/><path d="M1067.2 358.8L1078.2 337.2L1056.2 337.2Z" fill="#fff" stroke="#24479c" stroke-width="2.9" stroke-linejoin="round"/><path d="M1075.0 440.8L1086.0 419.2L1064.0 419.2Z" fill="#fff" stroke="#24479c" stroke-width="2.9" stroke-linejoin="round"/><path d="M1090.8 454.8L1101.8 433.2L1079.8 433.2Z" fill="#fff" stroke="#24479c" stroke-width="2.9" stroke-linejoin="round"/><path d="M1122.2 537.8L1133.2 516.2L1111.2 516.2Z" fill="#fff" stroke="#24479c" stroke-width="2.9" stroke-linejoin="round"/><path d="M1169.4 498.8L1180.4 477.2L1158.4 477.2Z" fill="#fff" stroke="#24479c" stroke-width="2.9" stroke-linejoin="round"/><path d="M1232.2 398.8L1243.2 377.2L1221.2 377.2Z" fill="#fff" stroke="#24479c" stroke-width="2.9" stroke-linejoin="round"/><path d="M1248.0 642.8L1259.0 621.2L1237.0 621.2Z" fill="#fff" stroke="#24479c" stroke-width="2.9" stroke-linejoin="round"/><path d="M1279.4 800.8L1290.4 779.2L1268.4 779.2Z" fill="#fff" stroke="#24479c" stroke-width="2.9" stroke-linejoin="round"/><path d="M1310.8 744.8L1321.8 723.2L1299.8 723.2Z" fill="#fff" stroke="#24479c" stroke-width="2.9" stroke-linejoin="round"/><path d="M1358.0 786.8L1369.0 765.2L1347.0 765.2Z" fill="#fff" stroke="#24479c" stroke-width="2.9" stroke-linejoin="round"/><path d="M1389.4 867.8L1400.4 846.2L1378.4 846.2Z" fill="#fff" stroke="#24479c" stroke-width="2.9" stroke-linejoin="round"/><path d="M1452.3 811.8L1463.3 790.2L1441.3 790.2Z" fill="#fff" stroke="#24479c" stroke-width="2.9" stroke-linejoin="round"/><path d="M1468.0 925.8L1479.0 904.2L1457.0 904.2Z" fill="#fff" stroke="#24479c" stroke-width="2.9" stroke-linejoin="round"/><path d="M1483.8 894.8L1494.8 873.2L1472.8 873.2Z" fill="#fff" stroke="#24479c" stroke-width="2.9" stroke-linejoin="round"/><path d="M1515.2 800.8L1526.2 779.2L1504.2 779.2Z" fill="#fff" stroke="#24479c" stroke-width="2.9" stroke-linejoin="round"/><path d="M1546.6 908.8L1557.6 887.2L1535.6 887.2Z" fill="#fff" stroke="#24479c" stroke-width="2.9" stroke-linejoin="round"/><path d="M1562.4 659.8L1573.4 638.2L1551.4 638.2Z" fill="#fff" stroke="#24479c" stroke-width="2.9" stroke-linejoin="round"/><path d="M1578.1 494.8L1589.1 473.2L1567.1 473.2Z" fill="#fff" stroke="#24479c" stroke-width="2.9" stroke-linejoin="round"/><path d="M1609.5 617.8L1620.5 596.2L1598.5 596.2Z" fill="#fff" stroke="#24479c" stroke-width="2.9" stroke-linejoin="round"/><path d="M1641.0 617.8L1652.0 596.2L1630.0 596.2Z" fill="#fff" stroke="#24479c" stroke-width="2.9" stroke-linejoin="round"/><path d="M1672.4 634.8L1683.4 613.2L1661.4 613.2Z" fill="#fff" stroke="#24479c" stroke-width="2.9" stroke-linejoin="round"/><path d="M1703.8 634.8L1714.8 613.2L1692.8 613.2Z" fill="#fff" stroke="#24479c" stroke-width="2.9" stroke-linejoin="round"/><path d="M1751.0 620.8L1762.0 599.2L1740.0 599.2Z" fill="#fff" stroke="#24479c" stroke-width="2.9" stroke-linejoin="round"/><path d="M1043.6 915.0L1059.3 611.0L1067.2 465.0L1075.0 452.0L1090.8 628.0L1122.2 680.0L1169.4 709.0L1232.2 722.0L1248.0 915.0L1263.7 905.0L1279.4 915.0L1310.8 915.0L1358.0 915.0L1389.4 915.0L1452.3 915.0L1468.0 915.0L1483.8 915.0L1515.2 915.0L1546.6 915.0L1562.4 915.0L1578.1 915.0L1609.5 776.0L1641.0 858.0L1672.4 858.0L1703.8 807.0L1751.0 858.0" fill="none" stroke="#24479c" stroke-width="2.6" stroke-linejoin="round"/><path d="M1043.6 904.2L1054.6 925.8L1032.6 925.8Z" fill="#fff" stroke="#24479c" stroke-width="2.9" stroke-linejoin="round"/><path d="M1059.3 600.2L1070.3 621.8L1048.3 621.8Z" fill="#fff" stroke="#24479c" stroke-width="2.9" stroke-linejoin="round"/><path d="M1067.2 454.2L1078.2 475.8L1056.2 475.8Z" fill="#fff" stroke="#24479c" stroke-width="2.9" stroke-linejoin="round"/><path d="M1075.0 441.2L1086.0 462.8L1064.0 462.8Z" fill="#fff" stroke="#24479c" stroke-width="2.9" stroke-linejoin="round"/><path d="M1090.8 617.2L1101.8 638.8L1079.8 638.8Z" fill="#fff" stroke="#24479c" stroke-width="2.9" stroke-linejoin="round"/><path d="M1122.2 669.2L1133.2 690.8L1111.2 690.8Z" fill="#fff" stroke="#24479c" stroke-width="2.9" stroke-linejoin="round"/><path d="M1169.4 698.2L1180.4 719.8L1158.4 719.8Z" fill="#fff" stroke="#24479c" stroke-width="2.9" stroke-linejoin="round"/><path d="M1232.2 711.2L1243.2 732.8L1221.2 732.8Z" fill="#fff" stroke="#24479c" stroke-width="2.9" stroke-linejoin="round"/><path d="M1248.0 904.2L1259.0 925.8L1237.0 925.8Z" fill="#fff" stroke="#24479c" stroke-width="2.9" stroke-linejoin="round"/><path d="M1263.7 894.2L1274.7 915.8L1252.7 915.8Z" fill="#fff" stroke="#24479c" stroke-width="2.9" stroke-linejoin="round"/><path d="M1279.4 904.2L1290.4 925.8L1268.4 925.8Z" fill="#fff" stroke="#24479c" stroke-width="2.9" stroke-linejoin="round"/><path d="M1310.8 904.2L1321.8 925.8L1299.8 925.8Z" fill="#fff" stroke="#24479c" stroke-width="2.9" stroke-linejoin="round"/><path d="M1358.0 904.2L1369.0 925.8L1347.0 925.8Z" fill="#fff" stroke="#24479c" stroke-width="2.9" stroke-linejoin="round"/><path d="M1389.4 904.2L1400.4 925.8L1378.4 925.8Z" fill="#fff" stroke="#24479c" stroke-width="2.9" stroke-linejoin="round"/><path d="M1452.3 904.2L1463.3 925.8L1441.3 925.8Z" fill="#fff" stroke="#24479c" stroke-width="2.9" stroke-linejoin="round"/><path d="M1468.0 904.2L1479.0 925.8L1457.0 925.8Z" fill="#fff" stroke="#24479c" stroke-width="2.9" stroke-linejoin="round"/><path d="M1483.8 904.2L1494.8 925.8L1472.8 925.8Z" fill="#fff" stroke="#24479c" stroke-width="2.9" stroke-linejoin="round"/><path d="M1515.2 904.2L1526.2 925.8L1504.2 925.8Z" fill="#fff" stroke="#24479c" stroke-width="2.9" stroke-linejoin="round"/><path d="M1546.6 904.2L1557.6 925.8L1535.6 925.8Z" fill="#fff" stroke="#24479c" stroke-width="2.9" stroke-linejoin="round"/><path d="M1562.4 904.2L1573.4 925.8L1551.4 925.8Z" fill="#fff" stroke="#24479c" stroke-width="2.9" stroke-linejoin="round"/><path d="M1578.1 904.2L1589.1 925.8L1567.1 925.8Z" fill="#fff" stroke="#24479c" stroke-width="2.9" stroke-linejoin="round"/><path d="M1609.5 765.2L1620.5 786.8L1598.5 786.8Z" fill="#fff" stroke="#24479c" stroke-width="2.9" stroke-linejoin="round"/><path d="M1641.0 847.2L1652.0 868.8L1630.0 868.8Z" fill="#fff" stroke="#24479c" stroke-width="2.9" stroke-linejoin="round"/><path d="M1672.4 847.2L1683.4 868.8L1661.4 868.8Z" fill="#fff" stroke="#24479c" stroke-width="2.9" stroke-linejoin="round"/><path d="M1703.8 796.2L1714.8 817.8L1692.8 817.8Z" fill="#fff" stroke="#24479c" stroke-width="2.9" stroke-linejoin="round"/><path d="M1751.0 847.2L1762.0 868.8L1740.0 868.8Z" fill="#fff" stroke="#24479c" stroke-width="2.9" stroke-linejoin="round"/><path d="M1043.6 915.0L1059.3 486.0L1067.2 444.0L1075.0 390.0L1090.8 555.0L1122.2 555.0L1169.4 626.0L1232.2 569.0L1248.0 709.0L1263.7 693.0L1279.4 843.0L1310.8 818.0L1358.0 843.0L1389.4 817.0L1452.3 885.0L1468.0 915.0L1483.8 915.0L1515.2 915.0L1546.6 915.0L1562.4 915.0L1578.1 707.0L1609.5 707.0L1641.0 636.0L1672.4 611.0L1703.8 569.0L1751.0 611.0" fill="none" stroke="#000" stroke-width="3.2" stroke-linejoin="round"/><circle cx="1043.6" cy="915.0" r="12" fill="#fff" stroke="#000" stroke-width="3.0"/><circle cx="1059.3" cy="486.0" r="12" fill="#fff" stroke="#000" stroke-width="3.0"/><circle cx="1067.2" cy="444.0" r="12" fill="#fff" stroke="#000" stroke-width="3.0"/><circle cx="1075.0" cy="390.0" r="12" fill="#fff" stroke="#000" stroke-width="3.0"/><circle cx="1090.8" cy="555.0" r="12" fill="#fff" stroke="#000" stroke-width="3.0"/><circle cx="1122.2" cy="555.0" r="12" fill="#fff" stroke="#000" stroke-width="3.0"/><circle cx="1169.4" cy="626.0" r="12" fill="#fff" stroke="#000" stroke-width="3.0"/><circle cx="1232.2" cy="569.0" r="12" fill="#fff" stroke="#000" stroke-width="3.0"/><circle cx="1248.0" cy="709.0" r="12" fill="#fff" stroke="#000" stroke-width="3.0"/><circle cx="1263.7" cy="693.0" r="12" fill="#fff" stroke="#000" stroke-width="3.0"/><circle cx="1279.4" cy="843.0" r="12" fill="#fff" stroke="#000" stroke-width="3.0"/><circle cx="1310.8" cy="818.0" r="12" fill="#fff" stroke="#000" stroke-width="3.0"/><circle cx="1358.0" cy="843.0" r="12" fill="#fff" stroke="#000" stroke-width="3.0"/><circle cx="1389.4" cy="817.0" r="12" fill="#fff" stroke="#000" stroke-width="3.0"/><circle cx="1452.3" cy="885.0" r="12" fill="#fff" stroke="#000" stroke-width="3.0"/><circle cx="1468.0" cy="915.0" r="12" fill="#fff" stroke="#000" stroke-width="3.0"/><circle cx="1483.8" cy="915.0" r="12" fill="#fff" stroke="#000" stroke-width="3.0"/><circle cx="1515.2" cy="915.0" r="12" fill="#fff" stroke="#000" stroke-width="3.0"/><circle cx="1546.6" cy="915.0" r="12" fill="#fff" stroke="#000" stroke-width="3.0"/><circle cx="1562.4" cy="915.0" r="12" fill="#fff" stroke="#000" stroke-width="3.0"/><circle cx="1578.1" cy="707.0" r="12" fill="#fff" stroke="#000" stroke-width="3.0"/><circle cx="1609.5" cy="707.0" r="12" fill="#fff" stroke="#000" stroke-width="3.0"/><circle cx="1641.0" cy="636.0" r="12" fill="#fff" stroke="#000" stroke-width="3.0"/><circle cx="1672.4" cy="611.0" r="12" fill="#fff" stroke="#000" stroke-width="3.0"/><circle cx="1703.8" cy="569.0" r="12" fill="#fff" stroke="#000" stroke-width="3.0"/><circle cx="1751.0" cy="611.0" r="12" fill="#fff" stroke="#000" stroke-width="3.0"/><path d="M1043.6 915.0L1059.3 596.0L1075.0 461.0L1090.8 571.0L1122.2 730.0L1169.4 680.0L1232.2 695.0L1248.0 803.0L1263.7 843.0L1279.4 872.0L1310.8 898.0L1358.0 914.0L1389.4 915.0L1452.3 915.0L1468.0 915.0L1483.8 915.0L1515.2 915.0L1546.6 915.0L1562.4 915.0L1578.1 816.0L1609.5 736.0L1641.0 791.0L1672.4 707.0L1703.8 653.0L1751.0 776.0" fill="none" stroke="#000" stroke-width="3.2" stroke-linejoin="round"/><path d="M1043.6 903.0L1055.6 915.0L1043.6 927.0L1031.6 915.0Z" fill="#fff" stroke="#000" stroke-width="3.0" stroke-linejoin="round"/><path d="M1059.3 584.0L1071.3 596.0L1059.3 608.0L1047.3 596.0Z" fill="#fff" stroke="#000" stroke-width="3.0" stroke-linejoin="round"/><path d="M1075.0 449.0L1087.0 461.0L1075.0 473.0L1063.0 461.0Z" fill="#fff" stroke="#000" stroke-width="3.0" stroke-linejoin="round"/><path d="M1090.8 559.0L1102.8 571.0L1090.8 583.0L1078.8 571.0Z" fill="#fff" stroke="#000" stroke-width="3.0" stroke-linejoin="round"/><path d="M1122.2 718.0L1134.2 730.0L1122.2 742.0L1110.2 730.0Z" fill="#fff" stroke="#000" stroke-width="3.0" stroke-linejoin="round"/><path d="M1169.4 668.0L1181.4 680.0L1169.4 692.0L1157.4 680.0Z" fill="#fff" stroke="#000" stroke-width="3.0" stroke-linejoin="round"/><path d="M1232.2 683.0L1244.2 695.0L1232.2 707.0L1220.2 695.0Z" fill="#fff" stroke="#000" stroke-width="3.0" stroke-linejoin="round"/><path d="M1248.0 791.0L1260.0 803.0L1248.0 815.0L1236.0 803.0Z" fill="#fff" stroke="#000" stroke-width="3.0" stroke-linejoin="round"/><path d="M1263.7 831.0L1275.7 843.0L1263.7 855.0L1251.7 843.0Z" fill="#fff" stroke="#000" stroke-width="3.0" stroke-linejoin="round"/><path d="M1279.4 860.0L1291.4 872.0L1279.4 884.0L1267.4 872.0Z" fill="#fff" stroke="#000" stroke-width="3.0" stroke-linejoin="round"/><path d="M1310.8 886.0L1322.8 898.0L1310.8 910.0L1298.8 898.0Z" fill="#fff" stroke="#000" stroke-width="3.0" stroke-linejoin="round"/><path d="M1358.0 902.0L1370.0 914.0L1358.0 926.0L1346.0 914.0Z" fill="#fff" stroke="#000" stroke-width="3.0" stroke-linejoin="round"/><path d="M1389.4 903.0L1401.4 915.0L1389.4 927.0L1377.4 915.0Z" fill="#fff" stroke="#000" stroke-width="3.0" stroke-linejoin="round"/><path d="M1452.3 903.0L1464.3 915.0L1452.3 927.0L1440.3 915.0Z" fill="#fff" stroke="#000" stroke-width="3.0" stroke-linejoin="round"/><path d="M1468.0 903.0L1480.0 915.0L1468.0 927.0L1456.0 915.0Z" fill="#fff" stroke="#000" stroke-width="3.0" stroke-linejoin="round"/><path d="M1483.8 903.0L1495.8 915.0L1483.8 927.0L1471.8 915.0Z" fill="#fff" stroke="#000" stroke-width="3.0" stroke-linejoin="round"/><path d="M1515.2 903.0L1527.2 915.0L1515.2 927.0L1503.2 915.0Z" fill="#fff" stroke="#000" stroke-width="3.0" stroke-linejoin="round"/><path d="M1546.6 903.0L1558.6 915.0L1546.6 927.0L1534.6 915.0Z" fill="#fff" stroke="#000" stroke-width="3.0" stroke-linejoin="round"/><path d="M1562.4 903.0L1574.4 915.0L1562.4 927.0L1550.4 915.0Z" fill="#fff" stroke="#000" stroke-width="3.0" stroke-linejoin="round"/><path d="M1578.1 804.0L1590.1 816.0L1578.1 828.0L1566.1 816.0Z" fill="#fff" stroke="#000" stroke-width="3.0" stroke-linejoin="round"/><path d="M1609.5 724.0L1621.5 736.0L1609.5 748.0L1597.5 736.0Z" fill="#fff" stroke="#000" stroke-width="3.0" stroke-linejoin="round"/><path d="M1641.0 779.0L1653.0 791.0L1641.0 803.0L1629.0 791.0Z" fill="#fff" stroke="#000" stroke-width="3.0" stroke-linejoin="round"/><path d="M1672.4 695.0L1684.4 707.0L1672.4 719.0L1660.4 707.0Z" fill="#fff" stroke="#000" stroke-width="3.0" stroke-linejoin="round"/><path d="M1703.8 641.0L1715.8 653.0L1703.8 665.0L1691.8 653.0Z" fill="#fff" stroke="#000" stroke-width="3.0" stroke-linejoin="round"/><path d="M1751.0 764.0L1763.0 776.0L1751.0 788.0L1739.0 776.0Z" fill="#fff" stroke="#000" stroke-width="3.0" stroke-linejoin="round"/><path d="M1043.6 915.0L1059.3 471.0L1067.2 463.0L1075.0 544.0L1090.8 527.0L1122.2 626.0L1169.4 651.0L1232.2 527.0L1248.0 759.0L1263.7 734.0L1279.4 801.0L1310.8 872.0L1358.0 885.0L1389.4 915.0L1452.3 915.0L1468.0 915.0L1483.8 915.0L1515.2 915.0L1546.6 915.0L1562.4 915.0L1578.1 690.0L1609.5 569.0L1641.0 594.0L1672.4 544.0L1688.1 544.0" fill="none" stroke="#000" stroke-width="3.2" stroke-linejoin="round"/><path d="M1043.6 905.8V924.2M1034.4 915.0H1052.8M1037.0 908.4L1050.2 921.6M1037.0 921.6L1050.2 908.4" stroke="#000" stroke-width="3.1" fill="none"/><path d="M1059.3 461.8V480.2M1050.1 471.0H1068.5M1052.7 464.4L1065.9 477.6M1052.7 477.6L1065.9 464.4" stroke="#000" stroke-width="3.1" fill="none"/><path d="M1067.2 453.8V472.2M1058.0 463.0H1076.4M1060.6 456.4L1073.8 469.6M1060.6 469.6L1073.8 456.4" stroke="#000" stroke-width="3.1" fill="none"/><path d="M1075.0 534.8V553.2M1065.8 544.0H1084.2M1068.4 537.4L1081.7 550.6M1068.4 550.6L1081.7 537.4" stroke="#000" stroke-width="3.1" fill="none"/><path d="M1090.8 517.8V536.2M1081.6 527.0H1100.0M1084.1 520.4L1097.4 533.6M1084.1 533.6L1097.4 520.4" stroke="#000" stroke-width="3.1" fill="none"/><path d="M1122.2 616.8V635.2M1113.0 626.0H1131.4M1115.6 619.4L1128.8 632.6M1115.6 632.6L1128.8 619.4" stroke="#000" stroke-width="3.1" fill="none"/><path d="M1169.4 641.8V660.2M1160.2 651.0H1178.6M1162.7 644.4L1176.0 657.6M1162.7 657.6L1176.0 644.4" stroke="#000" stroke-width="3.1" fill="none"/><path d="M1232.2 517.8V536.2M1223.0 527.0H1241.4M1225.6 520.4L1238.9 533.6M1225.6 533.6L1238.9 520.4" stroke="#000" stroke-width="3.1" fill="none"/><path d="M1248.0 749.8V768.2M1238.8 759.0H1257.2M1241.3 752.4L1254.6 765.6M1241.3 765.6L1254.6 752.4" stroke="#000" stroke-width="3.1" fill="none"/><path d="M1263.7 724.8V743.2M1254.5 734.0H1272.9M1257.1 727.4L1270.3 740.6M1257.1 740.6L1270.3 727.4" stroke="#000" stroke-width="3.1" fill="none"/><path d="M1279.4 791.8V810.2M1270.2 801.0H1288.6M1272.8 794.4L1286.0 807.6M1272.8 807.6L1286.0 794.4" stroke="#000" stroke-width="3.1" fill="none"/><path d="M1310.8 862.8V881.2M1301.6 872.0H1320.0M1304.2 865.4L1317.5 878.6M1304.2 878.6L1317.5 865.4" stroke="#000" stroke-width="3.1" fill="none"/><path d="M1358.0 875.8V894.2M1348.8 885.0H1367.2M1351.4 878.4L1364.6 891.6M1351.4 891.6L1364.6 878.4" stroke="#000" stroke-width="3.1" fill="none"/><path d="M1389.4 905.8V924.2M1380.2 915.0H1398.6M1382.8 908.4L1396.1 921.6M1382.8 921.6L1396.1 908.4" stroke="#000" stroke-width="3.1" fill="none"/><path d="M1452.3 905.8V924.2M1443.1 915.0H1461.5M1445.7 908.4L1458.9 921.6M1445.7 921.6L1458.9 908.4" stroke="#000" stroke-width="3.1" fill="none"/><path d="M1468.0 905.8V924.2M1458.8 915.0H1477.2M1461.4 908.4L1474.7 921.6M1461.4 921.6L1474.7 908.4" stroke="#000" stroke-width="3.1" fill="none"/><path d="M1483.8 905.8V924.2M1474.6 915.0H1493.0M1477.1 908.4L1490.4 921.6M1477.1 921.6L1490.4 908.4" stroke="#000" stroke-width="3.1" fill="none"/><path d="M1515.2 905.8V924.2M1506.0 915.0H1524.4M1508.6 908.4L1521.8 921.6M1508.6 921.6L1521.8 908.4" stroke="#000" stroke-width="3.1" fill="none"/><path d="M1546.6 905.8V924.2M1537.4 915.0H1555.8M1540.0 908.4L1553.3 921.6M1540.0 921.6L1553.3 908.4" stroke="#000" stroke-width="3.1" fill="none"/><path d="M1562.4 905.8V924.2M1553.2 915.0H1571.6M1555.7 908.4L1569.0 921.6M1555.7 921.6L1569.0 908.4" stroke="#000" stroke-width="3.1" fill="none"/><path d="M1578.1 680.8V699.2M1568.9 690.0H1587.3M1571.5 683.4L1584.7 696.6M1571.5 696.6L1584.7 683.4" stroke="#000" stroke-width="3.1" fill="none"/><path d="M1609.5 559.8V578.2M1600.3 569.0H1618.7M1602.9 562.4L1616.1 575.6M1602.9 575.6L1616.1 562.4" stroke="#000" stroke-width="3.1" fill="none"/><path d="M1641.0 584.8V603.2M1631.8 594.0H1650.2M1634.3 587.4L1647.6 600.6M1634.3 600.6L1647.6 587.4" stroke="#000" stroke-width="3.1" fill="none"/><path d="M1672.4 534.8V553.2M1663.2 544.0H1681.6M1665.8 537.4L1679.0 550.6M1665.8 550.6L1679.0 537.4" stroke="#000" stroke-width="3.1" fill="none"/><path d="M1688.1 534.8V553.2M1678.9 544.0H1697.3M1681.5 537.4L1694.7 550.6M1681.5 550.6L1694.7 537.4" stroke="#000" stroke-width="3.1" fill="none"/>
<path d="M1451.2 915.5L1471.7 956.5L1455.5 944L1455.5 986H1446.9V944L1430.7 956.5Z" fill="#e0291d"/>
<path d="M1546.6 915.5L1567.1 956.5L1550.8999999999999 944L1550.8999999999999 986H1542.3V944L1526.1 956.5Z" fill="#e0291d"/>
<text x="10.90" y="1122.00" font-size="40" font-weight="bold">b</text>
<g transform="translate(54.5,0) rotate(-90)"><text x="-1655.73" y="0.00" font-size="36" fill="#231815" textLength="492.01" lengthAdjust="spacingAndGlyphs">plasma viral loads (copies/ml)</text></g>
<line x1="199" y1="1139" x2="199" y2="1673.0" stroke="#231815" stroke-width="3.9"/><line x1="197.1" y1="1671.5" x2="556" y2="1671.5" stroke="#231815" stroke-width="4"/><line x1="173" y1="1140.6" x2="199" y2="1140.6" stroke="#231815" stroke-width="3.8"/><text x="108.65" y="1152.80" font-size="37.5" fill="#231815">10</text><text x="154.10" y="1142.40" font-size="23.5" fill="#231815">8</text><line x1="173" y1="1238.9" x2="199" y2="1238.9" stroke="#231815" stroke-width="3.8"/><text x="108.65" y="1251.10" font-size="37.5" fill="#231815">10</text><text x="153.85" y="1240.70" font-size="23.5" fill="#231815">7</text><line x1="173" y1="1337.2" x2="199" y2="1337.2" stroke="#231815" stroke-width="3.8"/><text x="108.65" y="1349.40" font-size="37.5" fill="#231815">10</text><text x="153.85" y="1339.00" font-size="23.5" fill="#231815">6</text><line x1="173" y1="1435.5" x2="199" y2="1435.5" stroke="#231815" stroke-width="3.8"/><text x="108.65" y="1447.70" font-size="37.5" fill="#231815">10</text><text x="154.10" y="1437.30" font-size="23.5" fill="#231815">5</text><line x1="173" y1="1533.8" x2="199" y2="1533.8" stroke="#231815" stroke-width="3.8"/><text x="108.65" y="1546.00" font-size="37.5" fill="#231815">10</text><text x="154.60" y="1535.60" font-size="23.5" fill="#231815">4</text><line x1="173" y1="1632.1" x2="199" y2="1632.1" stroke="#231815" stroke-width="3.8"/><text x="108.65" y="1644.30" font-size="37.5" fill="#231815">10</text><text x="154.10" y="1633.90" font-size="23.5" fill="#231815">3</text><line x1="293.5" y1="1671.5" x2="293.5" y2="1696.5" stroke="#231815" stroke-width="3.8"/><text x="293.5" y="1737" font-size="37.5" text-anchor="middle" fill="#231815">N</text><line x1="458" y1="1671.5" x2="458" y2="1696.5" stroke="#231815" stroke-width="3.8"/><text x="458" y="1737" font-size="37.5" text-anchor="middle" fill="#231815">V</text><text x="326.60" y="1122.80" font-size="37.5" font-weight="bold" textLength="101.80" lengthAdjust="spacingAndGlyphs">wk 12</text><line x1="226.4" y1="1370.6" x2="361.3" y2="1370.6" stroke="#231815" stroke-width="3.8"/><line x1="390.1" y1="1379.2" x2="525.1" y2="1379.2" stroke="#231815" stroke-width="3.8"/><circle cx="294" cy="1279.7" r="11.8" fill="#fff" stroke="#231815" stroke-width="3.9"/><circle cx="294" cy="1315" r="11.8" fill="#fff" stroke="#231815" stroke-width="3.9"/><circle cx="270" cy="1353.5" r="11.8" fill="#fff" stroke="#231815" stroke-width="3.9"/><circle cx="318" cy="1348.3" r="11.8" fill="#fff" stroke="#231815" stroke-width="3.9"/><circle cx="318" cy="1452.4" r="11.8" fill="#fff" stroke="#231815" stroke-width="3.9"/><circle cx="270" cy="1473.6" r="11.8" fill="#fff" stroke="#231815" stroke-width="3.9"/><circle cx="458" cy="1233.3" r="11.8" fill="#fff" stroke="#231815" stroke-width="3.9"/><circle cx="458" cy="1315" r="11.8" fill="#fff" stroke="#231815" stroke-width="3.9"/><circle cx="458" cy="1348.3" r="11.8" fill="#fff" stroke="#231815" stroke-width="3.9"/><circle cx="458" cy="1383.7" r="11.8" fill="#fff" stroke="#231815" stroke-width="3.9"/><circle cx="482" cy="1486.7" r="11.8" fill="#fff" stroke="#231815" stroke-width="3.9"/><circle cx="434" cy="1508.7" r="11.8" fill="#fff" stroke="#231815" stroke-width="3.9"/>
<line x1="744.5" y1="1139" x2="744.5" y2="1673.0" stroke="#231815" stroke-width="3.9"/><line x1="742.6" y1="1671.5" x2="1100.6" y2="1671.5" stroke="#231815" stroke-width="4"/><line x1="718.5" y1="1140.6" x2="744.5" y2="1140.6" stroke="#231815" stroke-width="3.8"/><text x="654.15" y="1152.80" font-size="37.5" fill="#231815">10</text><text x="699.60" y="1142.40" font-size="23.5" fill="#231815">8</text><line x1="718.5" y1="1238.9" x2="744.5" y2="1238.9" stroke="#231815" stroke-width="3.8"/><text x="654.15" y="1251.10" font-size="37.5" fill="#231815">10</text><text x="699.35" y="1240.70" font-size="23.5" fill="#231815">7</text><line x1="718.5" y1="1337.2" x2="744.5" y2="1337.2" stroke="#231815" stroke-width="3.8"/><text x="654.15" y="1349.40" font-size="37.5" fill="#231815">10</text><text x="699.35" y="1339.00" font-size="23.5" fill="#231815">6</text><line x1="718.5" y1="1435.5" x2="744.5" y2="1435.5" stroke="#231815" stroke-width="3.8"/><text x="654.15" y="1447.70" font-size="37.5" fill="#231815">10</text><text x="699.60" y="1437.30" font-size="23.5" fill="#231815">5</text><line x1="718.5" y1="1533.8" x2="744.5" y2="1533.8" stroke="#231815" stroke-width="3.8"/><text x="654.15" y="1546.00" font-size="37.5" fill="#231815">10</text><text x="700.10" y="1535.60" font-size="23.5" fill="#231815">4</text><line x1="718.5" y1="1632.1" x2="744.5" y2="1632.1" stroke="#231815" stroke-width="3.8"/><text x="654.15" y="1644.30" font-size="37.5" fill="#231815">10</text><text x="699.60" y="1633.90" font-size="23.5" fill="#231815">3</text><line x1="839.2" y1="1671.5" x2="839.2" y2="1696.5" stroke="#231815" stroke-width="3.8"/><text x="839.2" y="1737" font-size="37.5" text-anchor="middle" fill="#231815">N</text><line x1="1003.1" y1="1671.5" x2="1003.1" y2="1696.5" stroke="#231815" stroke-width="3.8"/><text x="1003.1" y="1737" font-size="37.5" text-anchor="middle" fill="#231815">V</text><text x="872.30" y="1122.80" font-size="37.5" font-weight="bold" textLength="100.85" lengthAdjust="spacingAndGlyphs">wk 34</text><line x1="771.9" y1="1443.2" x2="906.4" y2="1443.2" stroke="#231815" stroke-width="3.8"/><line x1="936.3" y1="1511.2" x2="1071.2" y2="1511.2" stroke="#231815" stroke-width="3.8"/><circle cx="815.1" cy="1361.7" r="11.8" fill="#fff" stroke="#231815" stroke-width="3.9"/><circle cx="863.6" cy="1348.7" r="11.8" fill="#fff" stroke="#231815" stroke-width="3.9"/><circle cx="863.6" cy="1383.9" r="11.8" fill="#fff" stroke="#231815" stroke-width="3.9"/><circle cx="839.2" cy="1417.2" r="11.8" fill="#fff" stroke="#231815" stroke-width="3.9"/><circle cx="839.2" cy="1520.8" r="11.8" fill="#fff" stroke="#231815" stroke-width="3.9"/><circle cx="839.2" cy="1623.6" r="11.8" fill="#fff" stroke="#231815" stroke-width="3.9"/><circle cx="1003.1" cy="1315.1" r="11.8" fill="#fff" stroke="#231815" stroke-width="3.9"/><circle cx="947" cy="1486" r="11.8" fill="#fff" stroke="#231815" stroke-width="3.9"/><circle cx="1003.1" cy="1508.1" r="11.8" fill="#fff" stroke="#231815" stroke-width="3.9"/><circle cx="1059.3" cy="1499.3" r="11.8" fill="#fff" stroke="#231815" stroke-width="3.9"/><circle cx="1003.1" cy="1590.3" r="11.8" fill="#fff" stroke="#231815" stroke-width="3.9"/><circle cx="1003.1" cy="1670.6" r="11.8" fill="#fff" stroke="#231815" stroke-width="3.9"/>
<line x1="1402.5" y1="1139" x2="1402.5" y2="1673.0" stroke="#231815" stroke-width="3.9"/><line x1="1400.6" y1="1671.5" x2="1758.4" y2="1671.5" stroke="#231815" stroke-width="4"/><line x1="1376.5" y1="1140.6" x2="1402.5" y2="1140.6" stroke="#231815" stroke-width="3.8"/><text x="1312.15" y="1152.80" font-size="37.5" fill="#231815">10</text><text x="1357.60" y="1142.40" font-size="23.5" fill="#231815">8</text><line x1="1376.5" y1="1238.9" x2="1402.5" y2="1238.9" stroke="#231815" stroke-width="3.8"/><text x="1312.15" y="1251.10" font-size="37.5" fill="#231815">10</text><text x="1357.35" y="1240.70" font-size="23.5" fill="#231815">7</text><line x1="1376.5" y1="1337.2" x2="1402.5" y2="1337.2" stroke="#231815" stroke-width="3.8"/><text x="1312.15" y="1349.40" font-size="37.5" fill="#231815">10</text><text x="1357.35" y="1339.00" font-size="23.5" fill="#231815">6</text><line x1="1376.5" y1="1435.5" x2="1402.5" y2="1435.5" stroke="#231815" stroke-width="3.8"/><text x="1312.15" y="1447.70" font-size="37.5" fill="#231815">10</text><text x="1357.60" y="1437.30" font-size="23.5" fill="#231815">5</text><line x1="1376.5" y1="1533.8" x2="1402.5" y2="1533.8" stroke="#231815" stroke-width="3.8"/><text x="1312.15" y="1546.00" font-size="37.5" fill="#231815">10</text><text x="1358.10" y="1535.60" font-size="23.5" fill="#231815">4</text><line x1="1376.5" y1="1632.1" x2="1402.5" y2="1632.1" stroke="#231815" stroke-width="3.8"/><text x="1312.15" y="1644.30" font-size="37.5" fill="#231815">10</text><text x="1357.60" y="1633.90" font-size="23.5" fill="#231815">3</text><line x1="1497.3" y1="1671.5" x2="1497.3" y2="1696.5" stroke="#231815" stroke-width="3.8"/><text x="1497.3" y="1737" font-size="37.5" text-anchor="middle" fill="#231815">N</text><line x1="1660.9" y1="1671.5" x2="1660.9" y2="1696.5" stroke="#231815" stroke-width="3.8"/><text x="1660.9" y="1737" font-size="37.5" text-anchor="middle" fill="#231815">V</text><text x="1530.00" y="1122.80" font-size="37.5" font-weight="bold" textLength="101.80" lengthAdjust="spacingAndGlyphs">wk 36</text><line x1="1429.6" y1="1419.4" x2="1564.6" y2="1419.4" stroke="#231815" stroke-width="3.8"/><line x1="1594" y1="1469.9" x2="1728.6" y2="1469.9" stroke="#231815" stroke-width="3.8"/><circle cx="1521.4" cy="1361.7" r="11.8" fill="#fff" stroke="#231815" stroke-width="3.9"/><circle cx="1472.8" cy="1383.9" r="11.8" fill="#fff" stroke="#231815" stroke-width="3.9"/><circle cx="1472.8" cy="1418.3" r="11.8" fill="#fff" stroke="#231815" stroke-width="3.9"/><circle cx="1521.4" cy="1418.3" r="11.8" fill="#fff" stroke="#231815" stroke-width="3.9"/><circle cx="1497.3" cy="1452.7" r="11.8" fill="#fff" stroke="#231815" stroke-width="3.9"/><circle cx="1497.3" cy="1487.1" r="11.8" fill="#fff" stroke="#231815" stroke-width="3.9"/><circle cx="1660.9" cy="1361.7" r="11.8" fill="#fff" stroke="#231815" stroke-width="3.9"/><circle cx="1636.8" cy="1404.9" r="11.8" fill="#fff" stroke="#231815" stroke-width="3.9"/><circle cx="1685" cy="1417.5" r="11.8" fill="#fff" stroke="#231815" stroke-width="3.9"/><circle cx="1636.8" cy="1439.3" r="11.8" fill="#fff" stroke="#231815" stroke-width="3.9"/><circle cx="1660.9" cy="1567.4" r="11.8" fill="#fff" stroke="#231815" stroke-width="3.9"/><circle cx="1660.9" cy="1622.8" r="11.8" fill="#fff" stroke="#231815" stroke-width="3.9"/>
</svg></body></html>
